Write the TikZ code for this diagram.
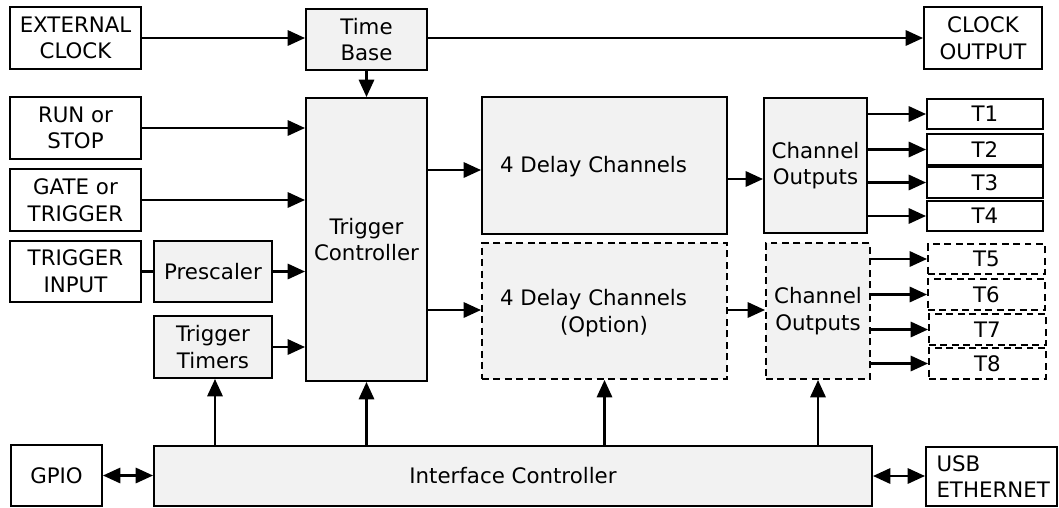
\documentclass[tikz,border=0pt]{standalone}
\usepackage{fontspec}
\setmainfont{DejaVu Sans}
\usetikzlibrary{arrows.meta}
\definecolor{boxgray}{HTML}{F2F2F2}
\tikzset{
  sz/.style 2 args={minimum width=#1*0.75pt, minimum height=#2*0.75pt},
  box/.style={draw, line width=1.5pt, inner sep=0pt, align=center,
    font=\fontsize{16}{20}\selectfont},
  gbox/.style={box, fill=boxgray},
  dbox/.style={box, dash pattern=on 5.2pt off 3.4pt},
  gdbox/.style={dbox, fill=boxgray},
  txt/.style={inner sep=0pt, align=center, font=\fontsize{16}{20}\selectfont},
  tip/.tip={Triangle[length=13pt,width=11.5pt]},
  arr/.style={line width=1.6pt, -tip},
  darr/.style={line width=1.6pt, tip-tip},
  ln/.style={line width=1.6pt}
}
\begin{document}
\begin{tikzpicture}[x=0.75pt,y=-0.75pt]
\useasboundingbox (0,0) rectangle (1059,507);
% left inputs
\node[box, sz={131}{62}] (ext) at (75.5,38) {EXTERNAL\\CLOCK};
\node[box, sz={131}{62}] (run) at (75.5,128) {RUN or\\STOP};
\node[box, sz={131}{62}] (gate) at (75.5,200) {GATE or\\TRIGGER};
\node[box, sz={131}{61}] (tin) at (75.5,271.5) {TRIGGER\\INPUT};
\node[gbox, sz={118}{61}] (pre) at (213,271.5) {Prescaler};
\node[gbox, sz={118}{62}] (tt) at (213,347) {Trigger\\Timers};
% time base, trigger controller
\node[gbox, sz={121}{61}] (tb) at (366.5,39.5) {Time\\Base};
\node[box, sz={118}{62}] (clk) at (983,38) {CLOCK\\OUTPUT};
\node[gbox, sz={121}{283}] (tc) at (366.5,239.5) {Trigger\\Controller};
% delay channels
\node[gbox, sz={245}{137}] (dc) at (604.5,165.5) {};
\node[txt] at (593.5,167) {4 Delay Channels};
\node[gdbox, sz={245}{136}] (dco) at (604.5,311) {};
\node[txt] at (593.5,300) {4 Delay Channels};
\node[txt] at (604,327) {(Option)};
% channel outputs
\node[gbox, sz={103}{135}] (co) at (815.5,165.5) {Channel\\Outputs};
\node[gdbox, sz={104}{136}] (coo) at (818,311) {Channel\\Outputs};
% T outputs
\node[box, sz={116}{30}] (t1) at (985,114) {T1};
\node[box, sz={116}{31}] (t2) at (985,149.5) {T2};
\node[box, sz={116}{31}] (t3) at (985,182.5) {T3};
\node[box, sz={116}{30}] (t4) at (985,216) {T4};
\node[dbox, sz={117}{30}] (t5) at (986.5,259) {T5};
\node[dbox, sz={117}{31}] (t6) at (986.5,294.5) {T6};
\node[dbox, sz={117}{31}] (t7) at (987.5,329.5) {T7};
\node[dbox, sz={117}{31}] (t8) at (987.5,363.5) {T8};
% bottom
\node[box, sz={91}{61}] (gpio) at (56.5,475.5) {GPIO};
\node[gbox, sz={718}{60}] (ic) at (513,476) {Interface Controller};
\node[box, sz={131}{59}, align=left, text width=110*0.75pt] (usb) at (991.5,476.5) {USB\\ETHERNET};
% connectors
\draw[arr] (ext.east) -- (ext.east -| tb.west);
\draw[arr] (clk.west -| tb.east) -- (clk.west);
\draw[arr] (tb.south) -- (tb.south |- tc.north);
\draw[arr] (run.east) -- (run.east -| tc.west);
\draw[arr] (gate.east) -- (gate.east -| tc.west);
\draw[ln] (tin.east) -- (pre.west);
\draw[arr] (pre.east) -- (pre.east -| tc.west);
\draw[arr] (tt.east) -- (tt.east -| tc.west);
\draw[arr] ([yshift=-4.5*0.75pt]tc.east |- dc.center) -- ([yshift=-4.5*0.75pt]dc.west);
\draw[arr] ([yshift=-13.5*0.75pt]dc.east) -- ([yshift=-13.5*0.75pt]dc.east -| co.west);
\draw[arr] ([yshift=0.75pt]tc.east |- dco.center) -- ([yshift=0.75pt]dco.west);
\draw[arr] ([yshift=0.75pt]dco.east) -- ([yshift=0.75pt]dco.east -| coo.west);
\foreach \t in {t1,t2,t3,t4} {\draw[arr] (co.east |- \t.west) -- (\t.west);}
\foreach \t in {t5,t6,t7,t8} {\draw[arr] (coo.east |- \t.west) -- (\t.west);}
\draw[arr] ([xshift=2*0.75pt]ic.north -| tt.south) -- ([xshift=2*0.75pt]tt.south);
\draw[arr] (ic.north -| tc.south) -- (tc.south);
\draw[arr] (ic.north -| dco.south) -- (dco.south);
\draw[arr] (ic.north -| coo.south) -- (coo.south);
\draw[darr] (gpio.east) -- (gpio.east -| ic.west);
\draw[darr] (ic.east) -- (ic.east -| usb.west);
\end{tikzpicture}
\end{document}
